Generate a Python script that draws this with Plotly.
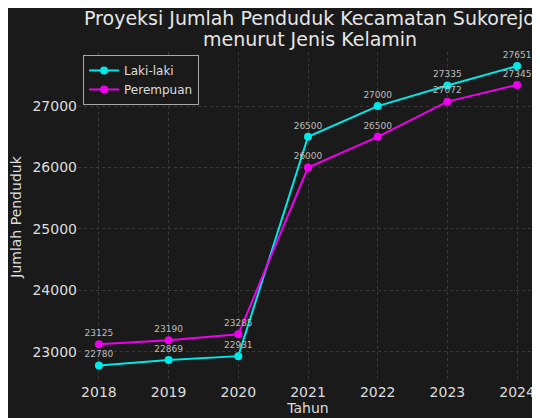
import plotly.graph_objects as go

years = [2018, 2019, 2020, 2021, 2022, 2023, 2024]
laki = [22780, 22869, 22931, 26500, 27000, 27335, 27651]
perempuan = [23125, 23190, 23285, 26000, 26500, 27072, 27345]
y_ticks = [23000, 24000, 25000, 26000, 27000]
title_lines = ["Proyeksi Jumlah Penduduk Kecamatan Sukorejo", "menurut Jenis Kelamin"]

fig = go.Figure()
fig.add_trace(go.Scatter(
    x=years, y=laki, name="Laki-laki", mode="lines+markers+text", cliponaxis=False,
    line=dict(color="#00e8e8", width=2), marker=dict(size=8, color="#00e8e8"),
    text=[str(v) for v in laki], textposition="top center",
    textfont=dict(size=9, color="#bdbdbd", family="DejaVu Sans")))
fig.add_trace(go.Scatter(
    x=years, y=perempuan, name="Perempuan", mode="lines+markers+text", cliponaxis=False,
    line=dict(color="#ee00ee", width=2), marker=dict(size=8, color="#ee00ee"),
    text=[str(v) for v in perempuan], textposition="top center",
    textfont=dict(size=9, color="#bdbdbd", family="DejaVu Sans")))

for line, ypos in zip(title_lines, [1.103, 1.039]):
    fig.add_annotation(text=line, xref="paper", yref="paper", x=0.504, y=ypos,
                       xanchor="center", yanchor="middle", showarrow=False,
                       font=dict(size=19, color="#e6e6e6", family="DejaVu Sans"))

fig.update_layout(
    width=532, height=410,
    paper_bgcolor="#1a1a1a", plot_bgcolor="#1a1a1a",
    font=dict(family="DejaVu Sans", color="#dddddd", size=13),
    margin=dict(l=70, r=2, t=44, b=36, autoexpand=False),
    showlegend=True,
    legend=dict(x=0.011, y=0.991, xanchor="left", yanchor="top",
                bgcolor="#1a1a1a", bordercolor="#aaaaaa", borderwidth=1,
                tracegroupgap=0, itemwidth=30,
                font=dict(size=12, color="#dddddd")),
    xaxis=dict(range=[2017.7, 2024.3], tickvals=years, ticktext=[str(y) for y in years],
               showgrid=True, gridcolor="#3a3a3a", griddash="dot", zeroline=False,
               showline=False, ticks="", tickfont=dict(size=14, color="#dddddd"),
               title=dict(text="Tahun", font=dict(size=14, color="#dddddd"), standoff=0)),
    yaxis=dict(range=[22510, 27880], tickvals=y_ticks, ticktext=[str(v) for v in y_ticks],
               showgrid=True, gridcolor="#3a3a3a", griddash="dot", zeroline=False,
               showline=False, ticks="", tickfont=dict(size=14, color="#dddddd"),
               title=dict(text="Jumlah Penduduk", font=dict(size=14, color="#dddddd"), standoff=8)),
)

fig.write_html("out.html")
